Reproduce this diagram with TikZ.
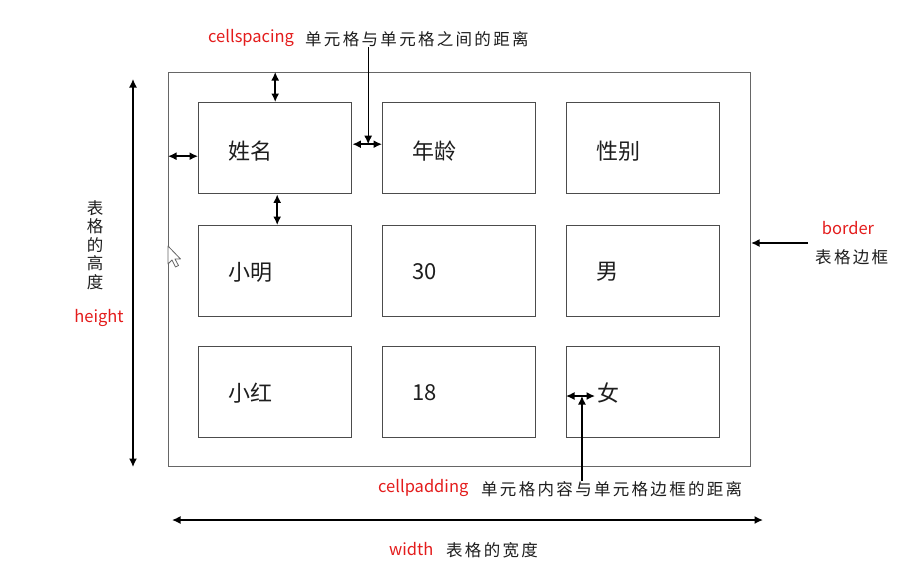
\documentclass[tikz,border=0pt]{standalone}
\usepackage{fontspec}
\setmainfont{Noto Sans CJK SC}
\usetikzlibrary{arrows.meta,calc}
\definecolor{keyred}{RGB}{228,28,28}
\definecolor{ink}{RGB}{30,30,30}
\begin{document}
\begin{tikzpicture}[x=1pt,y=-1pt,
  tblbox/.style={draw=black!60, line width=1.1pt, minimum width=582pt, minimum height=394pt, inner sep=0pt, anchor=north west},
  cellbox/.style={draw=black!70, line width=1.4pt, minimum width=153pt, minimum height=91pt, inner sep=0pt, anchor=north west},
  celltext/.style={font=\fontsize{22}{25}\selectfont, text=ink, anchor=west, inner sep=0pt},
  keyword/.style={font=\fontsize{16.5}{19}\selectfont, text=keyred, inner sep=0pt},
  note/.style={font=\fontsize{16.5}{19}\selectfont\addfontfeatures{LetterSpace=14}, text=ink, inner sep=0pt},
  dim/.style={line width=1.5pt, black, {Latex[length=8.5pt,width=8pt]}-{Latex[length=8.5pt,width=8pt]}},
  pointer/.style={line width=1.3pt, black, -{Latex[length=8.5pt,width=8pt]}}
]
\useasboundingbox (0,0) rectangle (916,582);
\fill[white] (0,0) rectangle (916,582);

% table frame
\node[tblbox] (tbl) at (168,72) {};

% cells
\node[cellbox] (c11) at (198,102) {};
\node[cellbox] (c12) at (382,102) {};
\node[cellbox] (c13) at (566,102) {};
\node[cellbox] (c21) at (198,225) {};
\node[cellbox] (c22) at (382,225) {};
\node[cellbox] (c23) at (566,225) {};
\node[cellbox] (c31) at (198,346) {};
\node[cellbox] (c32) at (382,346) {};
\node[cellbox] (c33) at (566,346) {};

% cell contents
\node[celltext] (t11) at (228,151) {姓名};
\node[celltext] (t12) at (412,151) {年龄};
\node[celltext] (t13) at (596,151) {性别};
\node[celltext] (t21) at (228,272) {小明};
\node[celltext] (t22) at (412,272) {30};
\node[celltext] (t23) at (596,272) {男};
\node[celltext] (t31) at (228,393) {小红};
\node[celltext] (t32) at (412,393) {18};
\node[celltext] (t33) at (597,393) {女};

% cellspacing
\node[keyword, anchor=west] (spkey) at (208,38) {cellspacing};
\node[note, anchor=west] (spnote) at (305,39) {单元格与单元格之间的距离};
\draw[dim] (tbl.north -| c11.north) -- (c11.north);
\draw[dim] ($(tbl.west |- c11.west)+(0,8)$) -- ($(c11.west)+(0,8)$);
\draw[dim] ($(c11.east)+(0,-4)$) -- ($(c12.west)+(0,-4)$);
\draw[dim] ($(c11.south)+(2,0)$) -- ($(c21.north)+(2,0)$);
\coordinate (spgap) at ($(c11.east)!0.5!(c12.west)+(1,-4)$);
\draw[pointer] (spnote.south -| spgap) -- (spgap);

% cellpadding
\node[keyword, anchor=west] (pdkey) at (378,488) {cellpadding};
\node[note, anchor=west] (pdnote) at (481,489) {单元格内容与单元格边框的距离};
\coordinate (pdtxt) at ($(t33.west)+(-2,3)$);
\draw[dim] (c33.west |- pdtxt) -- (pdtxt);
\coordinate (pdmid) at ($(c33.west |- pdtxt)!0.55!(pdtxt)$);
\draw[pointer] (pdnote.north -| pdmid) -- (pdmid);

% border
\node[keyword] (bdkey) at (848,228) {border};
\node[note, anchor=west] (bdnote) at (815,257) {表格边框};
\coordinate (bdtail) at (808,243);
\draw[pointer] (bdtail) -- (tbl.east |- bdtail);

% height
\coordinate (h1) at (133,79);
\coordinate (h2) at (133,467);
\draw[dim] (h1) -- (h2);
\node[font=\fontsize{16.5}{18.5}\selectfont, text=ink, align=center, inner sep=0pt] (htnote) at (95,245) {表\\格\\的\\高\\度};
\node[keyword] (htkey) at (99,318) {height};

% width
\coordinate (w1) at (172,520);
\coordinate (w2) at (763,520);
\draw[dim] (w1) -- (w2);
\node[keyword, anchor=west] (wdkey) at (389,549) {width};
\node[note, anchor=west] (wdnote) at (446,550) {表格的宽度};

% mouse pointer
\draw[black!60, fill=white, line width=0.8pt, line join=round]
  (168,246) -- (168,264) -- (172,260) -- (175.5,267) -- (178.5,265.5) -- (175,259) -- (180.5,259) -- cycle;
\end{tikzpicture}
\end{document}
